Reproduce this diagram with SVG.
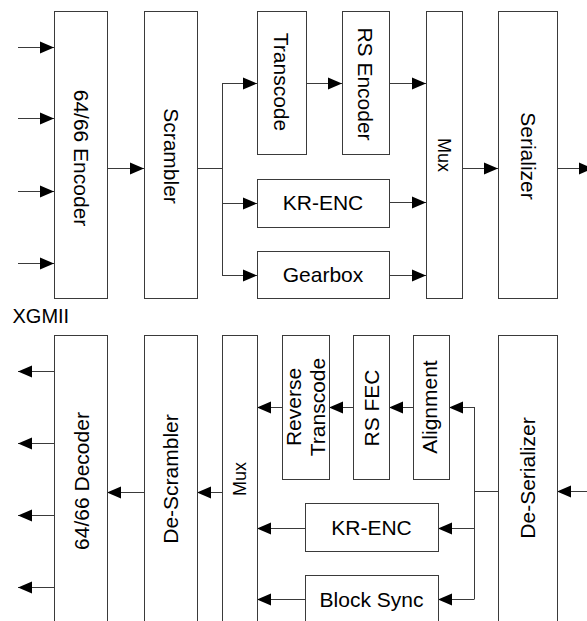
<svg xmlns="http://www.w3.org/2000/svg" width="587" height="621" viewBox="0 0 587 621">
<defs>
<marker id="ah" markerUnits="userSpaceOnUse" markerWidth="15" markerHeight="13" refX="14.5" refY="6.5" orient="auto">
<path d="M0.5,0.5 L14.5,6.5 L0.5,12.5 Z" fill="#000"/>
</marker>
<style>
.box{fill:#fff;stroke:#3a3a3a;stroke-width:1}
.t{font-family:"Liberation Sans",Arial,sans-serif;font-size:21px;fill:#000;text-anchor:middle}
.m{font-size:18px}
.c{fill:none;stroke:#3a3a3a;stroke-width:1}
.a{marker-end:url(#ah)}
</style>
</defs>
<rect width="587" height="621" fill="#fff"/>
<g id="connectors">
<path class="c a" d="M18,47.5 H54"/>
<path class="c a" d="M18,118.5 H54"/>
<path class="c a" d="M18,191.5 H54"/>
<path class="c a" d="M18,263.5 H54"/>
<path class="c a" d="M107,168.5 H144"/>
<path class="c" d="M197,168.5 H222.5 M222.5,83 V275.5"/>
<path class="c a" d="M222,83.5 H257"/>
<path class="c a" d="M222,203.5 H257"/>
<path class="c a" d="M222,275.5 H257"/>
<path class="c a" d="M306,83.5 H342"/>
<path class="c a" d="M389,83.5 H426"/>
<path class="c a" d="M389,202.5 H426"/>
<path class="c a" d="M389,275.5 H426"/>
<path class="c a" d="M462,168.5 H498"/>
<path class="c a" d="M557,168.5 H593"/>
<path class="c a" d="M590,491.5 H557"/>
<path class="c" d="M498,491.5 H474.5 M474.5,407 V599.5"/>
<path class="c a" d="M474,407.5 H449"/>
<path class="c a" d="M474,528.5 H438"/>
<path class="c a" d="M474,599.5 H438"/>
<path class="c a" d="M413,407.5 H389"/>
<path class="c a" d="M353,407.5 H329"/>
<path class="c a" d="M282,407.5 H257"/>
<path class="c a" d="M305,528.5 H257"/>
<path class="c a" d="M305,599.5 H257"/>
<path class="c a" d="M222,492.5 H197"/>
<path class="c a" d="M144,492.5 H107"/>
<path class="c a" d="M54,371.5 H18"/>
<path class="c a" d="M54,443.5 H18"/>
<path class="c a" d="M54,515.5 H18"/>
<path class="c a" d="M54,587.5 H18"/>
</g>
<g id="enc"><rect class="box" x="54.5" y="11.5" width="53" height="287"/><text class="t" transform="translate(74,158) rotate(90)">64/66 Encoder</text></g>
<g id="scr"><rect class="box" x="144.5" y="11.5" width="53" height="287"/><text class="t" transform="translate(163.5,156) rotate(90)">Scrambler</text></g>
<g id="trans"><rect class="box" x="257.5" y="11.5" width="49" height="143"/><text class="t" transform="translate(274,82) rotate(90)">Transcode</text></g>
<g id="rsenc"><rect class="box" x="342.5" y="11.5" width="47" height="143"/><text class="t" transform="translate(358,84) rotate(90)">RS Encoder</text></g>
<g id="mux1"><rect class="box" x="426.5" y="11.5" width="36" height="287"/><text class="t m" transform="translate(438,155) rotate(90)">Mux</text></g>
<g id="ser"><rect class="box" x="498.5" y="11.5" width="59" height="287"/><text class="t" transform="translate(520.5,156) rotate(90)">Serializer</text></g>
<g id="krenc1"><rect class="box" x="257.5" y="179.5" width="132" height="48"/><text class="t" x="323" y="210">KR-ENC</text></g>
<g id="gear"><rect class="box" x="257.5" y="251.5" width="132" height="47"/><text class="t" x="323" y="282">Gearbox</text></g>
<g id="xgmii"><text class="t" x="12.5" y="322.5" style="font-size:20px;text-anchor:start">XGMII</text></g>
<g id="dec"><rect class="box" x="54.5" y="335.5" width="53" height="287"/><text class="t" transform="translate(88.5,481) rotate(-90)">64/66 Decoder</text></g>
<g id="descr"><rect class="box" x="144.5" y="335.5" width="53" height="287"/><text class="t" transform="translate(178,479) rotate(-90)">De-Scrambler</text></g>
<g id="mux2"><rect class="box" x="222.5" y="335.5" width="35" height="287"/><text class="t m" transform="translate(246,479) rotate(-90)">Mux</text></g>
<g id="revtrans"><rect class="box" x="282.5" y="335.5" width="47" height="144"/><text class="t" transform="translate(300.5,407) rotate(-90)">Reverse</text><text class="t" transform="translate(325,407) rotate(-90)">Transcode</text></g>
<g id="rsfec"><rect class="box" x="353.5" y="335.5" width="36" height="144"/><text class="t" transform="translate(379,408) rotate(-90)">RS FEC</text></g>
<g id="align"><rect class="box" x="413.5" y="335.5" width="36" height="144"/><text class="t" transform="translate(437,407) rotate(-90)">Alignment</text></g>
<g id="deser"><rect class="box" x="498.5" y="335.5" width="59" height="287"/><text class="t" transform="translate(535,478) rotate(-90)">De-Serializer</text></g>
<g id="krenc2"><rect class="box" x="305.5" y="503.5" width="133" height="48"/><text class="t" x="371.5" y="535">KR-ENC</text></g>
<g id="bsync"><rect class="box" x="305.5" y="575.5" width="133" height="48"/><text class="t" x="371.5" y="607">Block Sync</text></g>
</svg>
